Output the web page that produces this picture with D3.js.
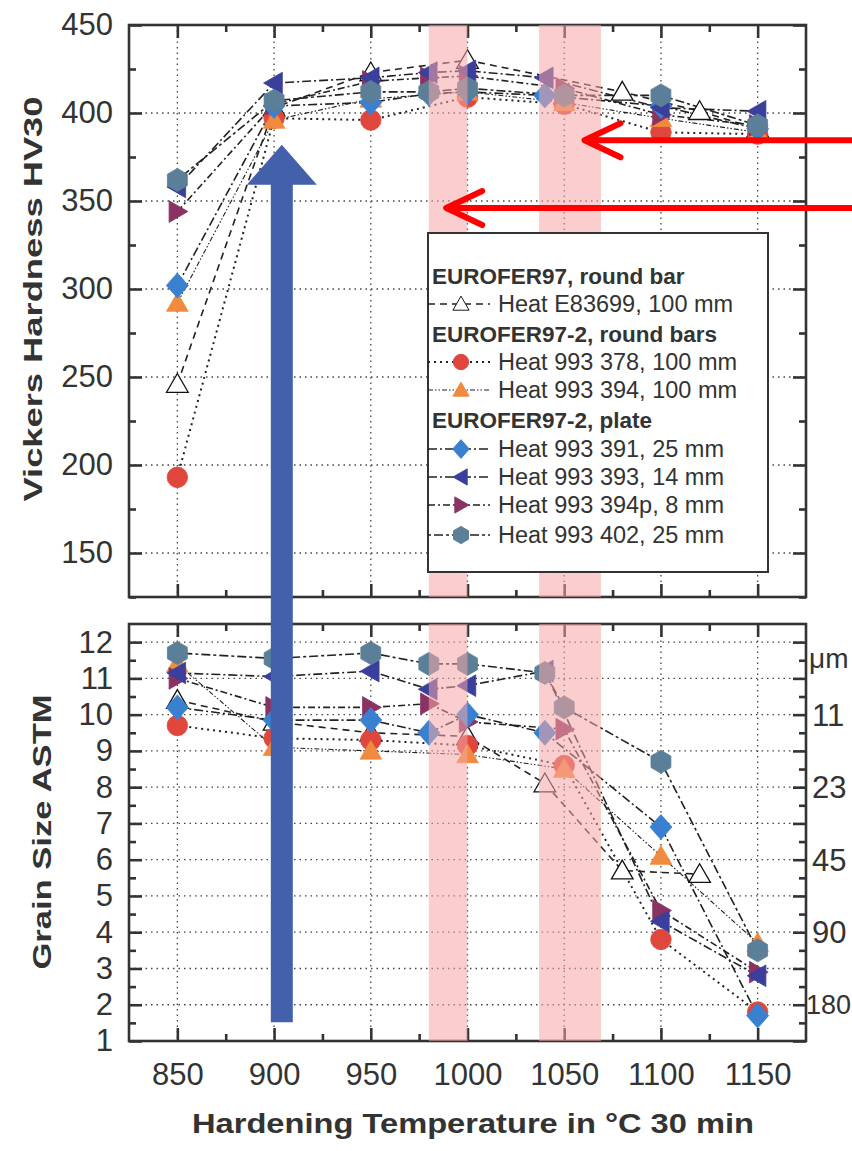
<!DOCTYPE html>
<html>
<head>
<meta charset="utf-8">
<script src="https://cdn.jsdelivr.net/npm/d3@7"></script>
<style>
  body { margin: 0; background: #fff; }
  svg { display: block; font-family: "Liberation Sans", Arial, sans-serif; }
</style>
</head>
<body>
<script>
// x positions (hardening temperature, °C) and values
const tempTicks = [850, 900, 950, 1000, 1050, 1100, 1150]
const hvTicks = [150, 200, 250, 300, 350, 400, 450]
const gsTicks = [1, 2, 3, 4, 5, 6, 7, 8, 9, 10, 11, 12]
const umTicks = [10, 8, 6, 4, 2]
const umLabels = ['11', '23', '45', '90', '180']

// hardness HV30, [temperature, value]
const hvE83699 = [[850, 246], [900, 403], [950, 423], [1000, 430], [1080, 412], [1120, 401], [1150, 391]]
const hv993378 = [[850, 193], [900, 397], [950, 396], [1000, 409], [1050, 405], [1100, 389], [1150, 388]]
const hv993394 = [[850, 292], [900, 396], [950, 408], [1000, 412], [1050, 406], [1100, 397], [1150, 389]]
const hv993391 = [[850, 302], [900, 404], [950, 406], [980, 411], [1000, 412], [1040, 410], [1100, 404], [1150, 391]]
const hv993393 = [[850, 358], [900, 417], [950, 420], [980, 423], [1000, 424], [1040, 420], [1100, 403], [1150, 401]]
const hv993394p = [[850, 344], [900, 405], [950, 418], [980, 420], [1000, 421], [1050, 414], [1100, 399], [1150, 393]]
const hv993402 = [[850, 362], [900, 407], [950, 412], [980, 412], [1000, 414], [1050, 410], [1100, 410], [1150, 393]]

// grain size ASTM, [temperature, value]
const gsE83699 = [[850, 10.4], [900, 9.8], [950, 9.5], [1000, 9.4], [1040, 8.1], [1080, 5.7], [1120, 5.6]]
const gs993378 = [[850, 9.7], [900, 9.35], [950, 9.3], [1000, 9.15], [1050, 8.6], [1100, 3.8], [1150, 1.8]]
const gs993394 = [[850, 11.4], [900, 9.1], [950, 9.0], [1000, 8.9], [1050, 8.5], [1100, 6.1], [1150, 3.7]]
const gs993391 = [[850, 10.2], [900, 9.85], [950, 9.85], [980, 9.5], [1000, 10.0], [1040, 9.5], [1100, 6.9], [1150, 1.7]]
const gs993393 = [[850, 11.15], [900, 11.05], [950, 11.2], [980, 10.7], [1000, 10.8], [1040, 11.2], [1100, 4.3], [1150, 2.8]]
const gs993394p = [[850, 11.0], [900, 10.2], [950, 10.2], [980, 10.3], [1000, 9.8], [1050, 9.6], [1100, 4.6], [1150, 2.9]]
const gs993402 = [[850, 11.7], [900, 11.55], [950, 11.7], [980, 11.4], [1000, 11.4], [1040, 11.15], [1050, 10.2], [1100, 8.7], [1150, 3.5]]

// highlighted temperature windows
const bands = [[980, 1000], [1037, 1069]]

const series = [
	{ label: 'Heat E83699, 100 mm', hv: hvE83699, gs: gsE83699, shape: 'triUp', fill: '#fff', dash: '7,5', lw: 1.6 },
	{ label: 'Heat 993 378, 100 mm', hv: hv993378, gs: gs993378, shape: 'circle', fill: '#e0473c', dash: '2,4', lw: 2 },
	{ label: 'Heat 993 394, 100 mm', hv: hv993394, gs: gs993394, shape: 'triUp', fill: '#f08a3e', dash: '5,2,1.5,2,1.5,2', lw: 1.1 },
	{ label: 'Heat 993 391, 25 mm', hv: hv993391, gs: gs993391, shape: 'diamond', fill: '#3a80d0', dash: '9,3,2,3', lw: 1.6 },
	{ label: 'Heat 993 393, 14 mm', hv: hv993393, gs: gs993393, shape: 'triLeft', fill: '#3a3f9c', dash: '9,3,2,3', lw: 1.6 },
	{ label: 'Heat 993 394p, 8 mm', hv: hv993394p, gs: gs993394p, shape: 'triRight', fill: '#8a3262', dash: '7,3,2,3', lw: 1.6 },
	{ label: 'Heat 993 402, 25 mm', hv: hv993402, gs: gs993402, shape: 'hex', fill: '#5b7f98', dash: '3,3,9,3', lw: 1.6 }
]
// drawing order of markers (which sits on top)
const markerOrder = [0, 1, 2, 5, 3, 4, 6]

const width = 852
const height = 1151
const ink = '#333'
const font = '"Liberation Sans", Arial, sans-serif'

const svg = d3.select('body').append('svg').attr('width', width).attr('height', height)
svg.append('rect').attr('width', width).attr('height', height).attr('fill', '#fff')

// Scales
const x = d3.scaleLinear().domain([825, 1175]).range([129, 806])
const yHv = d3.scaleLinear().domain([125, 450]).range([597, 25])
const yGs = d3.scaleLinear().domain([1, 12.5]).range([1041, 624])

function shapePath(shape) {
	const poly = (n, r, rot) => d3.range(n).map(i => {
		const a = rot + (i * 2 * Math.PI) / n
		return [r * Math.cos(a), r * Math.sin(a)]
	})
	let pts
	if (shape === 'circle') return d3.symbol(d3.symbolCircle, 330)()
	if (shape === 'triUp') pts = poly(3, 12.5, -Math.PI / 2).map(p => [p[0], p[1] + 2])
	if (shape === 'triLeft') pts = poly(3, 12.5, Math.PI).map(p => [p[0] + 2, p[1]])
	if (shape === 'triRight') pts = poly(3, 12.5, 0).map(p => [p[0] - 2, p[1]])
	if (shape === 'diamond') pts = [[0, -12.5], [11, 0], [0, 12.5], [-11, 0]]
	if (shape === 'hex') pts = poly(6, 11.5, -Math.PI / 2)
	return 'M' + pts.map(p => p.join(',')).join('L') + 'Z'
}

function drawPanel(y, key, yMajor, yMinor, yTop, yBottom, showXLabels) {
	const g = svg.append('g')

	// dotted grid
	const grid = g.append('g').attr('stroke', '#444').attr('stroke-width', 1.3).attr('stroke-dasharray', '1.5,4')
	grid.selectAll('line.v').data(tempTicks).join('line').attr('class', 'v')
		.attr('x1', d => x(d)).attr('x2', d => x(d)).attr('y1', yTop).attr('y2', yBottom)
	grid.selectAll('line.h').data(yMajor.filter(d => y(d) > yTop + 3 && y(d) < yBottom - 3)).join('line').attr('class', 'h')
		.attr('x1', x.range()[0]).attr('x2', x.range()[1]).attr('y1', d => y(d)).attr('y2', d => y(d))

	// series lines
	const line = d3.line().x(d => x(d[0])).y(d => y(d[1]))
	g.selectAll('path.s').data(series).join('path').attr('class', 's')
		.attr('d', d => line(d[key]))
		.attr('fill', 'none').attr('stroke', '#222')
		.attr('stroke-width', d => d.lw).attr('stroke-dasharray', d => d.dash)

	// markers
	markerOrder.forEach(i => {
		const s = series[i]
		g.append('g').selectAll('path').data(s[key]).join('path')
			.attr('transform', d => `translate(${x(d[0])},${y(d[1])})`)
			.attr('d', shapePath(s.shape))
			.attr('fill', s.fill)
			.attr('stroke', s.fill === '#fff' ? '#111' : s.fill)
			.attr('stroke-width', s.fill === '#fff' ? 1.3 : 0.8)
	})

	// axes with inward ticks
	const axes = g.append('g')
	const xMinor = d3.range(875, 1175, 50)
	const add = (axis, tx, ty) => axes.append('g').attr('transform', `translate(${tx},${ty})`).call(axis)
	add(d3.axisBottom(x).tickValues(tempTicks).tickSize(-13).tickPadding(22).tickFormat(showXLabels ? d3.format('d') : ''), 0, yBottom)
	add(d3.axisBottom(x).tickValues(xMinor).tickSize(-7).tickFormat(''), 0, yBottom)
	add(d3.axisTop(x).tickValues(tempTicks).tickSize(-13).tickFormat(''), 0, yTop)
	add(d3.axisTop(x).tickValues(xMinor).tickSize(-7).tickFormat(''), 0, yTop)
	add(d3.axisLeft(y).tickValues(yMajor).tickSize(-13).tickPadding(16).tickFormat(d3.format('d')), x.range()[0], 0)
	add(d3.axisLeft(y).tickValues(yMinor).tickSize(-7).tickFormat(''), x.range()[0], 0)
	add(d3.axisRight(y).tickValues(yMajor).tickSize(-13).tickFormat(''), x.range()[1], 0)
	add(d3.axisRight(y).tickValues(yMinor).tickSize(-7).tickFormat(''), x.range()[1], 0)
	axes.selectAll('.domain').remove()
	axes.selectAll('.tick line').attr('stroke', ink).attr('stroke-width', 2.6)
	axes.selectAll('.tick text').attr('fill', ink).attr('font-size', 31).attr('font-family', font)

	// frame
	g.append('rect').attr('x', x.range()[0]).attr('y', yTop)
		.attr('width', x.range()[1] - x.range()[0]).attr('height', yBottom - yTop)
		.attr('fill', 'none').attr('stroke', ink).attr('stroke-width', 2.6)
	return g
}

drawPanel(yHv, 'hv', hvTicks, d3.range(175, 450, 50).concat([125]), 25, 597, false)
drawPanel(yGs, 'gs', gsTicks, d3.range(1.5, 12.5, 1), 624, 1041, true)

// pink bands over both panels
const bandG = svg.append('g')
;[[25, 597], [624, 1041]].forEach(([t, b]) => {
	bandG.selectAll(null).data(bands).join('rect')
		.attr('x', d => x(d[0])).attr('width', d => x(d[1]) - x(d[0]))
		.attr('y', t).attr('height', b - t)
		.attr('fill', '#f6a6a6').attr('opacity', 0.55)
})

// legend
const leg = svg.append('g').attr('transform', 'translate(428,233)')
leg.append('rect').attr('width', 340).attr('height', 339).attr('fill', '#fff').attr('stroke', ink).attr('stroke-width', 2)
const legRows = [
	{ head: 'EUROFER97, round bar', y: 51 },
	{ s: 0, y: 79 },
	{ head: 'EUROFER97-2, round bars', y: 109 },
	{ s: 1, y: 137 },
	{ s: 2, y: 165 },
	{ head: 'EUROFER97-2, plate', y: 195 },
	{ s: 3, y: 224 },
	{ s: 4, y: 252 },
	{ s: 5, y: 280 },
	{ s: 6, y: 310 }
]
legRows.forEach(r => {
	if (r.head) {
		leg.append('text').attr('x', 4).attr('y', r.y).text(r.head)
			.attr('font-weight', 'bold').attr('font-size', 22.5).attr('fill', ink)
		return
	}
	const s = series[r.s]
	const cy = r.y - 8
	leg.append('line').attr('x1', 0).attr('x2', 62).attr('y1', cy).attr('y2', cy)
		.attr('stroke', '#222').attr('stroke-width', s.lw).attr('stroke-dasharray', s.dash)
	leg.append('path').attr('transform', `translate(33,${cy}) scale(0.75)`).attr('d', shapePath(s.shape))
		.attr('fill', s.fill).attr('stroke', s.fill === '#fff' ? '#111' : s.fill).attr('stroke-width', 1.3)
	leg.append('text').attr('x', 70).attr('y', r.y).text(s.label).attr('font-size', 23.5).attr('fill', ink)
})

// axis titles
svg.append('text').attr('transform', `translate(42,${(25 + 597) / 2 - 12}) rotate(-90)`)
	.attr('text-anchor', 'middle').attr('font-weight', 'bold').attr('font-size', 26).attr('fill', ink)
	.attr('textLength', 405).attr('lengthAdjust', 'spacingAndGlyphs').text('Vickers Hardness HV30')
svg.append('text').attr('transform', `translate(51,832) rotate(-90)`)
	.attr('text-anchor', 'middle').attr('font-weight', 'bold').attr('font-size', 26).attr('fill', ink)
	.attr('textLength', 275).attr('lengthAdjust', 'spacingAndGlyphs').text('Grain Size ASTM')
svg.append('text').attr('x', 473).attr('y', 1133)
	.attr('text-anchor', 'middle').attr('font-weight', 'bold').attr('font-size', 28).attr('fill', ink)
	.attr('textLength', 562).attr('lengthAdjust', 'spacingAndGlyphs').text('Hardening Temperature in °C 30 min')

// grain diameter scale on the right, squeezed against the picture edge
svg.append('text').attr('x', 809).attr('y', 668).attr('font-size', 28).attr('fill', ink).text('μm')
svg.selectAll('text.um').data(umTicks).join('text').attr('class', 'um')
	.attr('x', (d, i) => umLabels[i].length > 2 ? 806 : 812)
	.attr('y', d => yGs(d)).attr('dy', '0.36em')
	.attr('font-size', (d, i) => umLabels[i].length > 2 ? 27 : 31).attr('fill', ink)
	.text((d, i) => umLabels[i])

// annotation arrows
const blue = '#4361aa'
const ax = x(904)
const shaftBottom = yGs(1.52)
const tip = yHv(382)
svg.append('path')
	.attr('d', `M${ax - 11},${shaftBottom}V${tip + 40}H${ax - 35}L${ax},${tip}L${ax + 35},${tip + 40}H${ax + 11}V${shaftBottom}Z`)
	.attr('fill', blue)

const redArrows = [[1060.5, 384.5], [989, 346]]
redArrows.forEach(([t, v]) => {
	const px = x(t)
	const py = yHv(v)
	svg.append('path')
		.attr('d', `M${width + 5},${py}H${px + 3}M${px + 36},${py - 17}L${px},${py}L${px + 36},${py + 17}`)
		.attr('fill', 'none').attr('stroke', '#ff0000').attr('stroke-width', 6)
		.attr('stroke-linecap', 'round').attr('stroke-linejoin', 'round')
})
</script>
</body>
</html>
